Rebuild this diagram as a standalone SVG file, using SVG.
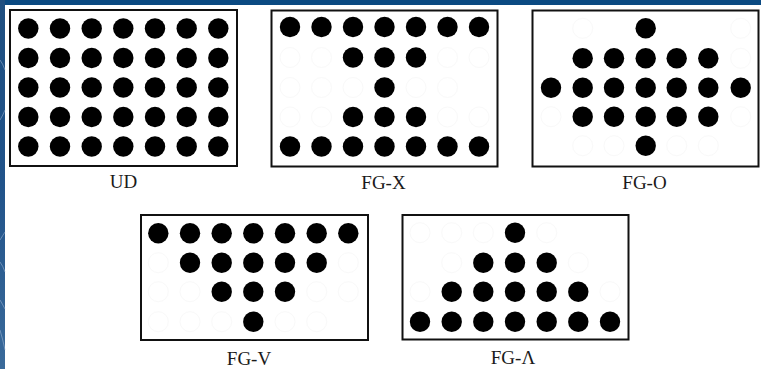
<svg xmlns="http://www.w3.org/2000/svg" xmlns:xlink="http://www.w3.org/1999/xlink" width="761" height="369" viewBox="0 0 761 369">
<defs>
<style>
.box{fill:#fff;stroke:#111;stroke-width:2}
.lbl{font-family:"Liberation Serif","Times New Roman",serif;font-size:19px;fill:#1a1a1a;text-anchor:middle}
.ghost{fill:none;stroke:#f9f9f9;stroke-width:1}
.streak{fill:none;stroke:#9fb8d6;stroke-width:0.8;opacity:0.7}
</style>
<circle id="d" r="10.2" fill="#000"/>
<linearGradient id="lg" x1="0" y1="0" x2="0" y2="1">
<stop offset="0" stop-color="#1f4f80"/>
<stop offset="0.5" stop-color="#21538a"/>
<stop offset="1" stop-color="#3a6a9a"/>
</linearGradient>
</defs>
<rect x="0" y="0" width="761" height="369" fill="#fff"/>
<rect x="0" y="0" width="761" height="5" fill="#0b4a82"/>
<rect x="0" y="0" width="5" height="369" fill="url(#lg)"/>
<path class="streak" d="M0 60 Q3 64 5 70 M0 120 Q3 115 5 110 M0 240 Q3 235 5 232 M0 262 Q3 266 5 272 M0 300 Q3 305 5 309 M0 330 Q3 340 5 350"/>

<g id="UD">
<rect class="box" x="10" y="10" width="227" height="156"/>
<g>
<use href="#d" x="28.3" y="28.5"/><use href="#d" x="60" y="28.5"/><use href="#d" x="91.7" y="28.5"/><use href="#d" x="123.3" y="28.5"/><use href="#d" x="155" y="28.5"/><use href="#d" x="186.7" y="28.5"/><use href="#d" x="218.3" y="28.5"/>
<use href="#d" x="28.3" y="58"/><use href="#d" x="60" y="58"/><use href="#d" x="91.7" y="58"/><use href="#d" x="123.3" y="58"/><use href="#d" x="155" y="58"/><use href="#d" x="186.7" y="58"/><use href="#d" x="218.3" y="58"/>
<use href="#d" x="28.3" y="87.5"/><use href="#d" x="60" y="87.5"/><use href="#d" x="91.7" y="87.5"/><use href="#d" x="123.3" y="87.5"/><use href="#d" x="155" y="87.5"/><use href="#d" x="186.7" y="87.5"/><use href="#d" x="218.3" y="87.5"/>
<use href="#d" x="28.3" y="117"/><use href="#d" x="60" y="117"/><use href="#d" x="91.7" y="117"/><use href="#d" x="123.3" y="117"/><use href="#d" x="155" y="117"/><use href="#d" x="186.7" y="117"/><use href="#d" x="218.3" y="117"/>
<use href="#d" x="28.3" y="146.5"/><use href="#d" x="60" y="146.5"/><use href="#d" x="91.7" y="146.5"/><use href="#d" x="123.3" y="146.5"/><use href="#d" x="155" y="146.5"/><use href="#d" x="186.7" y="146.5"/><use href="#d" x="218.3" y="146.5"/>
</g>
<text class="lbl" x="123.5" y="188">UD</text>
</g>

<g id="FG-X">
<rect class="box" x="271.5" y="10.5" width="226" height="156"/>
<g class="ghost">
<circle cx="290" cy="57.5" r="10"/><circle cx="321.5" cy="57.5" r="10"/><circle cx="447.5" cy="57.5" r="10"/><circle cx="479" cy="57.5" r="10"/>
<circle cx="290" cy="87.5" r="10"/><circle cx="321.5" cy="87.5" r="10"/><circle cx="353" cy="87.5" r="10"/><circle cx="416" cy="87.5" r="10"/><circle cx="447.5" cy="87.5" r="10"/>
<circle cx="290" cy="117" r="10"/><circle cx="321.5" cy="117" r="10"/><circle cx="447.5" cy="117" r="10"/><circle cx="479" cy="117" r="10"/>
</g>
<use href="#d" x="290" y="27"/><use href="#d" x="321.5" y="27"/><use href="#d" x="353" y="27"/><use href="#d" x="384.5" y="27"/><use href="#d" x="416" y="27"/><use href="#d" x="447.5" y="27"/><use href="#d" x="479" y="27"/>
<use href="#d" x="353" y="57.5"/><use href="#d" x="384.5" y="57.5"/><use href="#d" x="416" y="57.5"/>
<use href="#d" x="384.5" y="87.5"/>
<use href="#d" x="353" y="117"/><use href="#d" x="384.5" y="117"/><use href="#d" x="416" y="117"/>
<use href="#d" x="290" y="146.5"/><use href="#d" x="321.5" y="146.5"/><use href="#d" x="353" y="146.5"/><use href="#d" x="384.5" y="146.5"/><use href="#d" x="416" y="146.5"/><use href="#d" x="447.5" y="146.5"/><use href="#d" x="479" y="146.5"/>
<text class="lbl" x="383.5" y="189">FG-X</text>
</g>

<g id="FG-O">
<rect class="box" x="532.5" y="10.5" width="226" height="156"/>
<g class="ghost">
<circle cx="582.7" cy="28.3" r="10"/><circle cx="740.7" cy="28.3" r="10"/>
<circle cx="740.7" cy="58.3" r="10"/>
<circle cx="551" cy="116.7" r="10"/><circle cx="740.7" cy="116.7" r="10"/>
<circle cx="582.7" cy="145.7" r="10"/><circle cx="614" cy="145.7" r="10"/><circle cx="676.7" cy="145.7" r="10"/><circle cx="708.3" cy="145.7" r="10"/>
</g>
<use href="#d" x="645.7" y="28.3"/>
<use href="#d" x="582.7" y="58.3"/><use href="#d" x="614" y="58.3"/><use href="#d" x="645.7" y="58.3"/><use href="#d" x="676.7" y="58.3"/><use href="#d" x="708.3" y="58.3"/>
<use href="#d" x="551" y="87.7"/><use href="#d" x="582.7" y="87.7"/><use href="#d" x="614" y="87.7"/><use href="#d" x="645.7" y="87.7"/><use href="#d" x="676.7" y="87.7"/><use href="#d" x="708.3" y="87.7"/><use href="#d" x="740.7" y="87.7"/>
<use href="#d" x="582.7" y="116.7"/><use href="#d" x="614" y="116.7"/><use href="#d" x="645.7" y="116.7"/><use href="#d" x="676.7" y="116.7"/><use href="#d" x="708.3" y="116.7"/>
<use href="#d" x="645.7" y="145.7"/>
<text class="lbl" x="644.5" y="189">FG-O</text>
</g>

<g id="FG-V">
<rect class="box" x="141" y="215" width="227" height="125"/>
<g class="ghost">
<circle cx="158.3" cy="262.7" r="10"/><circle cx="348.3" cy="262.7" r="10"/>
<circle cx="158.3" cy="291.7" r="10"/><circle cx="190" cy="291.7" r="10"/><circle cx="316.7" cy="291.7" r="10"/><circle cx="348.3" cy="291.7" r="10"/>
<circle cx="158.3" cy="321.7" r="10"/><circle cx="190" cy="321.7" r="10"/><circle cx="221.7" cy="321.7" r="10"/><circle cx="285" cy="321.7" r="10"/><circle cx="316.7" cy="321.7" r="10"/>
</g>
<use href="#d" x="158.3" y="233.3"/><use href="#d" x="190" y="233.3"/><use href="#d" x="221.7" y="233.3"/><use href="#d" x="253.3" y="233.3"/><use href="#d" x="285" y="233.3"/><use href="#d" x="316.7" y="233.3"/><use href="#d" x="348.3" y="233.3"/>
<use href="#d" x="190" y="262.7"/><use href="#d" x="221.7" y="262.7"/><use href="#d" x="253.3" y="262.7"/><use href="#d" x="285" y="262.7"/><use href="#d" x="316.7" y="262.7"/>
<use href="#d" x="221.7" y="291.7"/><use href="#d" x="253.3" y="291.7"/><use href="#d" x="285" y="291.7"/>
<use href="#d" x="253.3" y="321.7"/>
<text class="lbl" x="249" y="364.5">FG-V</text>
</g>

<g id="FG-Lambda">
<rect class="box" x="402.5" y="215" width="226" height="124.5"/>
<g class="ghost">
<circle cx="420" cy="232.7" r="10"/><circle cx="451.7" cy="232.7" r="10"/><circle cx="483.3" cy="232.7" r="10"/><circle cx="546.7" cy="232.7" r="10"/>
<circle cx="451.7" cy="262.7" r="10"/><circle cx="578.3" cy="262.7" r="10"/>
<circle cx="420" cy="291.7" r="10"/><circle cx="610" cy="291.7" r="10"/>
</g>
<use href="#d" x="515" y="232.7"/>
<use href="#d" x="483.3" y="262.7"/><use href="#d" x="515" y="262.7"/><use href="#d" x="546.7" y="262.7"/>
<use href="#d" x="451.7" y="291.7"/><use href="#d" x="483.3" y="291.7"/><use href="#d" x="515" y="291.7"/><use href="#d" x="546.7" y="291.7"/><use href="#d" x="578.3" y="291.7"/>
<use href="#d" x="420" y="321.7"/><use href="#d" x="451.7" y="321.7"/><use href="#d" x="483.3" y="321.7"/><use href="#d" x="515" y="321.7"/><use href="#d" x="546.7" y="321.7"/><use href="#d" x="578.3" y="321.7"/><use href="#d" x="610" y="321.7"/>
<text class="lbl" x="513" y="364">FG-Λ</text>
</g>
</svg>
